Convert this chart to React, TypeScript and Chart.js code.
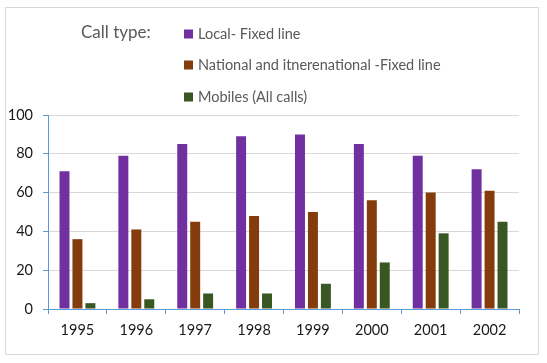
import React, { useEffect, useRef } from "react";
import { Chart, registerables } from "chart.js";

Chart.register(...registerables);

const years = ["1995", "1996", "1997", "1998", "1999", "2000", "2001", "2002"];
const localFixed = [71, 79, 85, 89, 90, 85, 79, 72];
const nationalFixed = [36, 41, 45, 48, 50, 56, 60, 61];
const mobiles = [3, 5, 8, 8, 13, 24, 39, 45];
const seriesLabels = ["Local- Fixed line", "National and itnerenational -Fixed line", "Mobiles (All calls)"];
const legendTitle = "Call type:";
const yTicks = [0, 20, 40, 60, 80, 100];

const FONT = "Lato, 'Open Sans', sans-serif";

const framePlugin = {
  id: "frame",
  beforeDraw(chart: any) {
    const ctx = chart.ctx;
    ctx.save();
    ctx.fillStyle = "#ffffff";
    ctx.fillRect(0, 0, chart.width, chart.height);
    ctx.strokeStyle = "#D9D9D9";
    ctx.lineWidth = 1;
    ctx.strokeRect(5.5, 7.5, 533, 347);
    ctx.restore();
  },
};

const legendPlugin = {
  id: "customLegend",
  afterDraw(chart: any) {
    const ctx = chart.ctx;
    ctx.save();
    ctx.textBaseline = "middle";
    ctx.fillStyle = "#595959";
    ctx.font = `17px ${FONT}`;
    ctx.fillText(legendTitle, 81, 33);
    const rows = [34, 65, 97];
    chart.data.datasets.forEach((ds: any, i: number) => {
      const y = rows[i];
      ctx.fillStyle = ds.backgroundColor;
      ctx.fillRect(184, y - 4.5, 9, 9);
      ctx.fillStyle = "#595959";
      ctx.font = `14.5px ${FONT}`;
      ctx.fillText(ds.label, 198, y);
    });
    ctx.restore();
  },
};

export default function App() {
  const ref = useRef<HTMLCanvasElement | null>(null);

  useEffect(() => {
    document.body.style.margin = "0";
    if (!ref.current) return;
    const chart = new Chart(ref.current, {
      type: "bar",
      data: {
        labels: years,
        datasets: [
          { label: seriesLabels[0], data: localFixed, backgroundColor: "#7030A0" },
          { label: seriesLabels[1], data: nationalFixed, backgroundColor: "#843C0C" },
          { label: seriesLabels[2], data: mobiles, backgroundColor: "#385723" },
        ],
      },
      options: {
        responsive: false,
        animation: false,
        devicePixelRatio: 1,
        layout: { padding: { top: 115, right: 28, left: 0, bottom: 0 } },
        datasets: { bar: { categoryPercentage: 0.66, barPercentage: 0.77 } },
        plugins: {
          legend: { display: false },
          tooltip: { enabled: false },
        },
        scales: {
          x: {
            offset: true,
            grid: {
              offset: true,
              drawOnChartArea: false,
              drawTicks: true,
              tickLength: 5,
              tickColor: "#5B9BD5",
            },
            border: { color: "#5B9BD5", width: 1 },
            ticks: { color: "#1a1a1a", font: { family: FONT, size: 14.5 }, padding: 8 },
            afterFit(scale: any) {
              scale.height = 54;
            },
          },
          y: {
            min: 0,
            max: 100,
            afterBuildTicks(scale: any) {
              scale.ticks = yTicks.map((v) => ({ value: v }));
            },
            grid: {
              color: "#D9D9D9",
              tickLength: 5,
              tickColor: "#5B9BD5",
            },
            border: { color: "#5B9BD5", width: 1 },
            ticks: { color: "#1a1a1a", font: { family: FONT, size: 14.5 }, padding: 10 },
            afterFit(scale: any) {
              scale.width = 48;
            },
          },
        },
      },
      plugins: [framePlugin, legendPlugin],
    });
    return () => chart.destroy();
  }, []);

  return <canvas ref={ref} width={547} height={363} style={{ display: "block" }} />;
}
